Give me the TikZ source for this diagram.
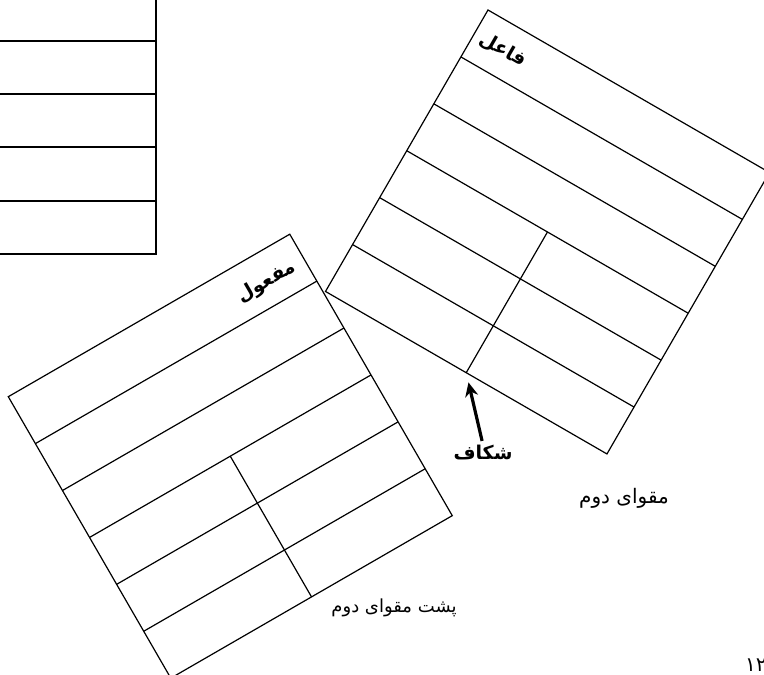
\documentclass[tikz,border=0pt]{standalone}
\usepackage{fontspec}
\usepackage{tikz}
\usetikzlibrary{arrows.meta,positioning}
\newfontfamily\arabicfont[Script=Arabic]{DejaVu Sans}
\TeXXeTstate=1

\begin{document}
\begin{tikzpicture}[
    x=1pt, y=1pt,
    cardline/.style={line width=1.2pt},
    falabel/.style={inner sep=0pt, font=\arabicfont\fontsize{20}{24}\selectfont},
    fatitle/.style={inner sep=0pt, font=\arabicfont\bfseries\fontsize{19}{23}\selectfont},
    crackarrow/.style={-{Stealth[length=14pt,width=13pt]}, line width=3.2pt},
    card/.pic={
        \draw[cardline] (0,0) rectangle (325,-325);
        \foreach \r in {1,...,5}
            \draw[cardline] (0,{-54.17*\r}) -- (325,{-54.17*\r});
        \draw[cardline] (162.5,-162.5) -- (162.5,-325);
        \coordinate (-slit) at (162.5,-325);
    }
]
\useasboundingbox (0,0) rectangle (764,675);
\clip (0,0) rectangle (764,675);

% first card, only its corner is seen
\draw[cardline] (-10,421) -| (156,685);
\foreach \y in {474,528,581,634}
    \draw[cardline] (-10,\y) -- (156,\y);

% second card, front
\begin{scope}[shift={(488,665)}, rotate=-30]
\pic[transform shape] (front) at (0,0) {card};
\node[fatitle, transform shape] (subject) at (33,-27) {\beginR فاعل\endR};
\end{scope}

% second card, back
\begin{scope}[shift={(8.3,278.3)}, rotate=30]
\pic[transform shape] (back) at (0,0) {card};
\node[fatitle, transform shape] (object) at (281,-30) {\beginR مفعول\endR};
\end{scope}

\node[fatitle] (crack) at (483,222.5) {\beginR شکاف\endR};
\draw[crackarrow, shorten <=4pt, shorten >=10pt] (crack.north) -- (front-slit);

\node[falabel] (frontname) at (624,177) {\beginR مقوای دوم\endR};
\node[falabel, font=\arabicfont\fontsize{18}{22}\selectfont] (backname) at (394,67) {\beginR پشت مقوای دوم\endR};
\node[falabel, anchor=west] (pagenum) at (745,10) {۱۲};
\end{tikzpicture}
\end{document}
